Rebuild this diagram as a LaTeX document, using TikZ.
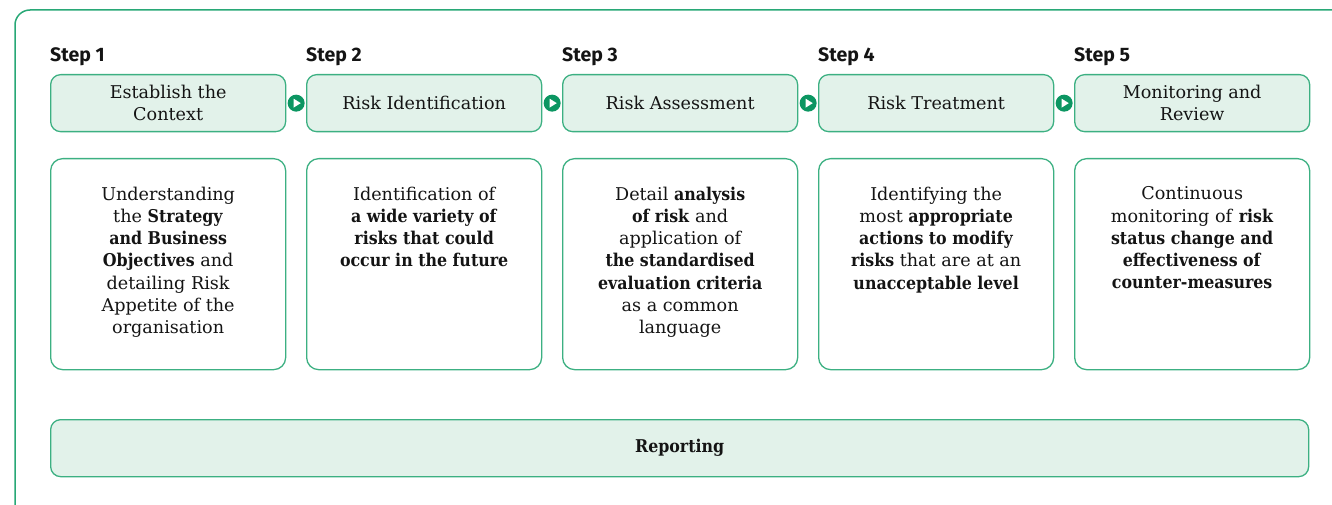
\documentclass[tikz,border=0pt]{standalone}
\usepackage{fontspec}
\usetikzlibrary{calc}
\setmainfont{DejaVu Serif}[BoldFont={DejaVu Serif Condensed Bold}]
\newfontfamily\stepfont{Fira Sans}
\newfontfamily\repfont{DejaVu Serif}
\definecolor{frame}{RGB}{40,168,118}
\definecolor{boxline}{RGB}{60,176,130}
\definecolor{boxfill}{RGB}{226,242,234}
\definecolor{dotgreen}{RGB}{12,150,98}
\definecolor{ink}{RGB}{20,20,20}
\begin{document}
\begin{tikzpicture}[x=1pt,y=-1pt,
  hdr/.style={draw=boxline,fill=boxfill,line width=1.3pt,rounded corners=10pt,minimum width=235pt,minimum height=57pt,inner sep=0pt,anchor=north west},
  cbox/.style={draw=boxline,fill=white,line width=1.3pt,rounded corners=12pt,minimum width=235pt,minimum height=211pt,inner sep=0pt,anchor=north west},
  hdrtext/.style={align=center,font=\fontsize{17.6}{22.3}\selectfont,text=ink,inner sep=0pt},
  desc/.style={align=center,font=\fontsize{17.6}{22.3}\selectfont,text=ink,inner sep=0pt,anchor=north},
  steplab/.style={font=\stepfont\bfseries\fontsize{19.5}{22}\selectfont,text=ink,anchor=base west,inner sep=0pt},
  dot/.style={circle,fill=dotgreen,minimum size=17pt,inner sep=0pt}
]
\clip (0,0) rectangle (1332,505);
\draw[frame,line width=1.5pt,rounded corners=15pt] (15,530) -- (15,10) -- (1360,10);

% step labels, header boxes, content boxes
\foreach \i/\x in {1/50,2/306,3/562,4/818,5/1074}{
  \node[steplab] (s\i) at (\x,62) {Step \i};
  \node[hdr] (h\i) at (\x,74) {};
  \node[cbox] (c\i) at (\x,158) {};
}

\node[hdrtext] (ht1) at (h1.center) {Establish the\\Context};
\node[hdrtext] (ht2) at (h2.center) {Risk Identification};
\node[hdrtext] (ht3) at (h3.center) {Risk Assessment};
\node[hdrtext] (ht4) at (h4.center) {Risk Treatment};
\node[hdrtext] (ht5) at (h5.center) {Monitoring and\\Review};

% arrows between headers
\foreach \a/\b in {1/2,2/3,3/4,4/5}{
  \node[dot] (d\a) at ($(h\a.east)!0.5!(h\b.west)$) {};
  \fill[white] ([xshift=-2.6pt,yshift=4.5pt]d\a.center) -- ([xshift=4.6pt]d\a.center) -- ([xshift=-2.6pt,yshift=-4.5pt]d\a.center) -- cycle;
}

\node[desc] (t1) at ([yshift=-28.5pt]c1.north) {Understanding\\the \textbf{Strategy}\\\textbf{and Business}\\\textbf{Objectives} and\\detailing Risk\\Appetite of the\\organisation};
\node[desc] (t2) at ([yshift=-28.5pt]c2.north) {Identification of\\\textbf{a wide variety of}\\\textbf{risks that could}\\\textbf{occur in the future}};
\node[desc] (t3) at ([yshift=-28.5pt]c3.north) {Detail \textbf{analysis}\\\textbf{of risk} and\\application of\\\textbf{the standardised}\\\textbf{evaluation criteria}\\as a common\\language};
\node[desc] (t4) at ([yshift=-28.5pt]c4.north) {Identifying the\\most \textbf{appropriate}\\\textbf{actions to modify}\\\textbf{risks} that are at an\\\textbf{unacceptable level}};
\node[desc] (t5) at ([yshift=-28.5pt]c5.north) {Continuous\\monitoring of \textbf{risk}\\\textbf{status change and}\\\textbf{effectiveness of}\\\textbf{counter-measures}};

\node[hdr,minimum width=1258pt] (rep) at (50,419) {};
\node[hdrtext,font=\bfseries\fontsize{17.6}{20}\selectfont] (rept) at (rep.center) {Reporting};
\end{tikzpicture}
\end{document}
